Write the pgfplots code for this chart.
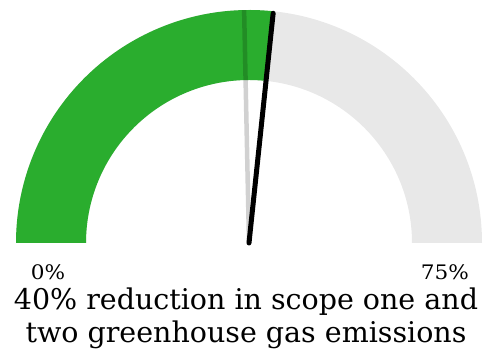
\documentclass[border=0pt]{standalone}
\usepackage{fontspec}
\setmainfont{DejaVu Serif}
\newfontfamily\titlefont[FakeStretch=1.0]{DejaVu Serif}
\newfontfamily\labelfont[FakeStretch=1.08]{DejaVu Serif}
\usepackage{pgfplots}
\pgfplotsset{compat=1.18}
\definecolor{gaugegreen}{HTML}{2AAD2E}
\definecolor{gaugegray}{HTML}{E8E8E8}
% gauge data
\def\gval{40}   % actual reduction (%)
\def\gtgt{37}   % reference marker (%)
\def\gmin{0}
\def\gmax{75}
\def\Rout{233}
\def\Rin{163}
\begin{document}
\begin{tikzpicture}
\pgfmathsetmacro{\aval}{180-180*(\gval-\gmin)/(\gmax-\gmin)}
\pgfmathsetmacro{\atgt}{180-180*(\gtgt-\gmin)/(\gmax-\gmin)}
\pgfmathsetmacro{\ix}{\Rin*cos(\aval)}
\pgfmathsetmacro{\iy}{\Rin*sin(\aval)}
\begin{axis}[
  width=483pt, height=358pt, scale only axis,
  xmin=-249, xmax=234, ymin=-115, ymax=243,
  hide axis, clip=false,
]
\path (rel axis cs:0,0) rectangle (rel axis cs:1,1);
% background band
\fill[gaugegray] (axis cs:-\Rout,0) arc[start angle=180,end angle=0,radius=\Rout]
  -- (axis cs:\Rin,0) arc[start angle=0,end angle=180,radius=\Rin] -- cycle;
% value band
\fill[gaugegreen] (axis cs:-\Rout,0) arc[start angle=180,end angle=\aval,radius=\Rout]
  -- (axis cs:\ix,\iy) arc[start angle=\aval,end angle=180,radius=\Rin] -- cycle;
% reference marker
\addplot[data cs=polar, black, opacity=0.18, line width=4.5pt]
  coordinates {(\atgt,0) (\atgt,\Rout)};
% needle
\addplot[data cs=polar, black, line width=5pt, line cap=round]
  coordinates {(\aval,0) (\aval,231)};
\node[font=\labelfont\fontsize{20}{22}\selectfont, anchor=base] at (axis cs:-201,-37) {0\%};
\node[font=\labelfont\fontsize{20}{22}\selectfont, anchor=base] at (axis cs:196,-37) {75\%};
\node[font=\titlefont\fontsize{28.5}{32}\selectfont, anchor=base, align=center] at (axis cs:-3,-67) {40\% reduction in scope one and};
\node[font=\titlefont\fontsize{28.5}{32}\selectfont, anchor=base, align=center] at (axis cs:-3,-99.5) {two greenhouse gas emissions};
\end{axis}
\end{tikzpicture}
\end{document}
